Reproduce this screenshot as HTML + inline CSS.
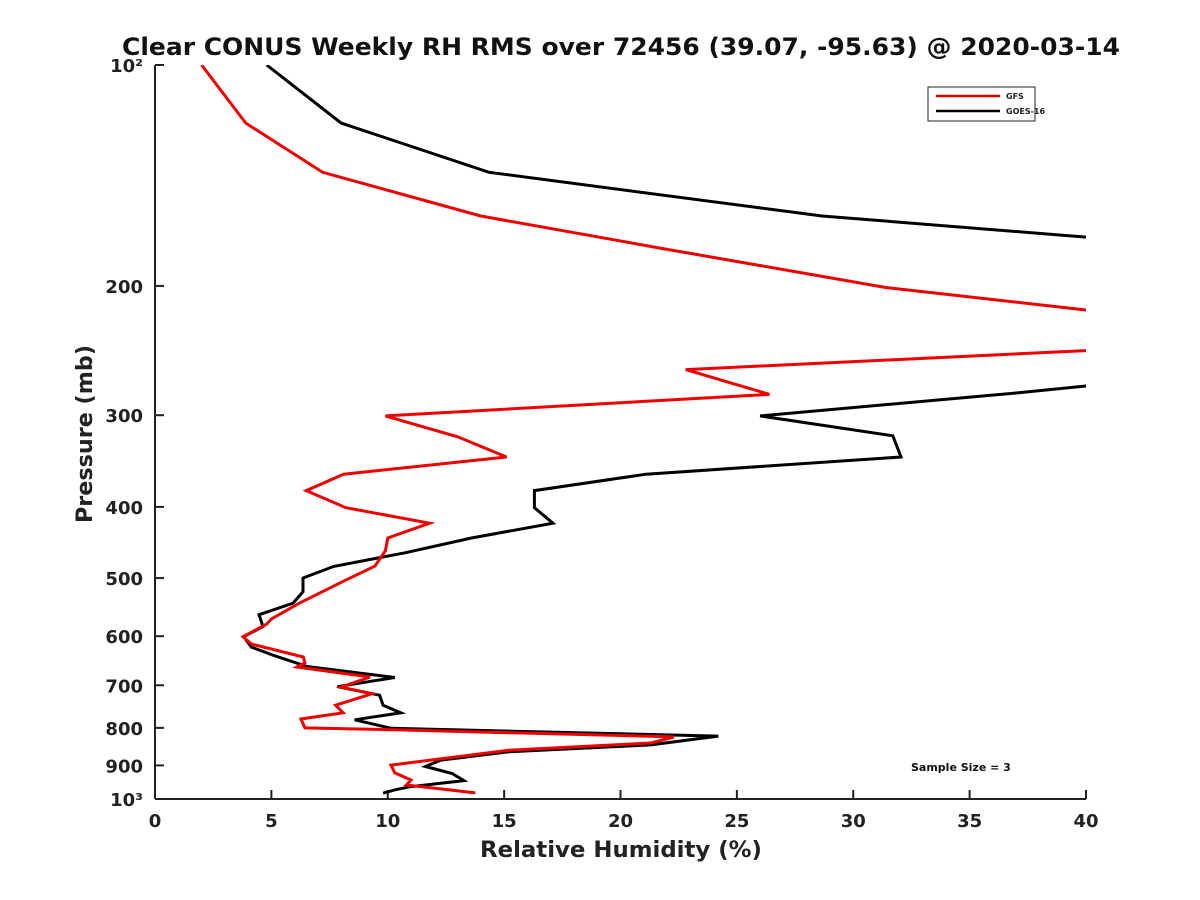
<!DOCTYPE html>
<html><head><meta charset="utf-8">
<style>
html,body{margin:0;padding:0;background:#fff;}
svg{display:block;font-family:"DejaVu Sans","Liberation Sans",sans-serif;}
</style></head>
<body>
<svg id="chart" width="1200" height="900" viewBox="0 0 1200 900">
<defs><clipPath id="plotclip"><rect x="155" y="65" width="931" height="734"/></clipPath></defs>
<text x="621" y="55" text-anchor="middle" font-size="24" font-weight="bold" fill="#111" textLength="998" lengthAdjust="spacingAndGlyphs">Clear CONUS Weekly RH RMS over 72456 (39.07, -95.63) @ 2020-03-14</text>
<g id="axes"></g>
<g id="series" clip-path="url(#plotclip)"></g>
<text x="621" y="857" text-anchor="middle" font-size="22" font-weight="bold" fill="#222" textLength="282" lengthAdjust="spacingAndGlyphs">Relative Humidity (%)</text>
<text transform="translate(92,434) rotate(-90)" text-anchor="middle" font-size="22" font-weight="bold" fill="#222" textLength="178" lengthAdjust="spacingAndGlyphs">Pressure (mb)</text>
<g>
<rect x="928" y="87" width="107" height="34" fill="#fff" stroke="#222" stroke-width="1"/>
<line x1="936" y1="96" x2="1000" y2="96" stroke="#e00" stroke-width="2.5"/>
<text x="1006" y="99" font-size="8" font-weight="bold" fill="#222">GFS</text>
<line x1="936" y1="111" x2="1000" y2="111" stroke="#000" stroke-width="2.5"/>
<text x="1006" y="114" font-size="8" font-weight="bold" fill="#222">GOES-16</text>
</g>
<text x="911" y="771" font-size="11" font-weight="bold" fill="#111">Sample Size = 3</text>
</svg>
<script>
const xTicks = [0,5,10,15,20,25,30,35,40];
const yTicks = [100,200,300,400,500,600,700,800,900,1000];
const yTickLabels = ["10²","200","300","400","500","600","700","800","900","10³"];
const gfsRH = [2.0,3.9,7.2,14.0,21.7,31.4,40,50,40,22.8,26.4,9.9,13.0,15.1,8.1,6.5,8.2,11.8,10.0,9.9,9.45,8.1,6.2,5.0,4.8,3.78,4.14,6.37,6.44,6.1,9.24,8.0,9.32,7.76,8.08,6.27,6.44,10.5,22.3,21.3,15.2,10.14,10.3,11.0,10.8,13.76];
const gfsP = [100,120,140,160.6,177.6,201,215.7,230,245,260,281,300.7,321,342,361,380,401,421,441,459,481.6,505,541,568.6,577.7,601,615,640.6,652.8,661,682,704,719,745,763,778,800,805,823,839,858,899,921,942,957,981];
const goesRH = [4.8,8.0,14.35,28.66,40,50,40,37.0,26.0,31.7,32.05,21.1,16.3,16.3,17.1,13.6,10.74,7.68,6.36,6.36,5.93,4.47,4.64,3.81,4.14,5.05,6.53,10.3,7.84,9.65,9.8,10.56,8.58,10.14,24.2,21.3,15.24,12.28,11.62,12.77,13.27,10.96,10.3,9.8];
const goesP = [100,120,140,160.6,171.6,220,273.7,279.8,300.7,320,342,361,380,401,421,441,462,482,500,522,541,561,582,601,621,636.6,660,683,703,722,745,763,780,801,821,844,862,885,903,923,944,962,972,982];

const X0=155,X1=1086,Y0=65,Y1=799;
const xScale=v=>X0+(v-0)/(40-0)*(X1-X0);
const yScale=p=>Y0+(Math.log10(p)-2)*(Y1-Y0);
const NS="http://www.w3.org/2000/svg";
function mk(tag,attrs,parent){const e=document.createElementNS(NS,tag);for(const k in attrs)e.setAttribute(k,attrs[k]);parent.appendChild(e);return e;}
const axes=document.getElementById('axes');
const xAxis=mk('line',{x1:X0,y1:Y1,x2:X1,y2:Y1,stroke:'#222','stroke-width':2},axes);


const yAxis=mk('line',{x1:X0,y1:Y0,x2:X0,y2:Y1,stroke:'#222','stroke-width':2},axes);


xTicks.forEach(v=>{
  const x=xScale(v);
  const t=mk('line',{x1:x,y1:Y1,x2:x,y2:Y1-9,stroke:'#222','stroke-width':2},axes);
  
  
  const l=mk('text',{x:x,y:Y1+28,'text-anchor':'middle','font-size':18,'font-weight':'bold',fill:'#222'},axes);
  l.textContent=String(v);
  
  
});
yTicks.forEach((p,i)=>{
  const y=yScale(p);
  const t=mk('line',{x1:X0,y1:y,x2:X0+9,y2:y,stroke:'#222','stroke-width':2},axes);
  
  
  const l=mk('text',{x:X0-12,y:y+7,'text-anchor':'end','font-size':18,'font-weight':'bold',fill:'#222'},axes);
  l.textContent=yTickLabels[i];
  
  
});
const series=document.getElementById('series');
function drawLine(rh,p,color,name){
  const pts=rh.map((v,i)=>xScale(v).toFixed(1)+','+yScale(p[i]).toFixed(1)).join(' ');
  const pl=mk('polyline',{points:pts,fill:'none',stroke:color,'stroke-width':3,'stroke-linejoin':'miter'},series);
  
  
}
drawLine(goesRH,goesP,'#000','goes16-line');
drawLine(gfsRH,gfsP,'#e00','gfs-line');
</script>
</body></html>
